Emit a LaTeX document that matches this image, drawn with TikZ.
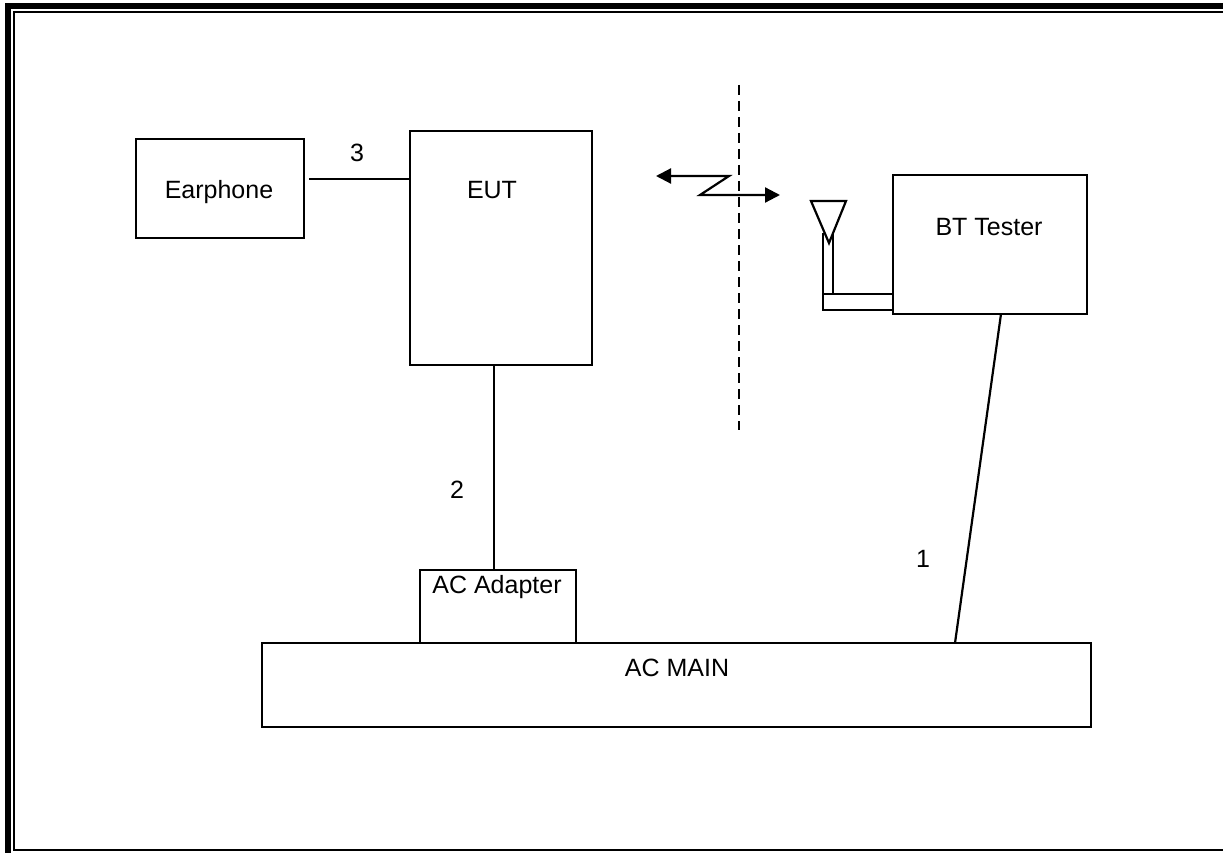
\documentclass[tikz,border=0pt]{standalone}
\usepackage{fontspec}
\setmainfont{Liberation Sans}
\usetikzlibrary{arrows.meta}
\begin{document}
\begin{tikzpicture}[x=1pt,y=-1pt,
  box/.style={draw,line width=2.2pt,inner sep=0pt,outer sep=0pt,minimum width=#1},
  lbl/.style={inner sep=0pt,font=\fontsize{25}{29}\selectfont},
  wire/.style={line width=2.2pt}
]
\useasboundingbox (0,0) rectangle (1223,853);
% frame
\draw[line width=6.5pt,line join=miter] (8,853) -- (8,6) -- (1223,6);
\draw[line width=2.6pt,line join=miter] (1223,12) -- (14,12) -- (14,850) -- (1223,850);
% boxes
\node[box=168pt,minimum height=99pt] (earphone) at (220,188.5) {};
\node[box=182pt,minimum height=234pt] (eut) at (501,248) {};
\node[box=194pt,minimum height=139pt] (bt) at (990,244.5) {};
\node[box=156pt,minimum height=73pt] (adapter) at (498,606.5) {};
\node[box=829pt,minimum height=84pt] (acmain) at (676.5,685) {};
% texts
\node[lbl] (tEar) at (219,192) {Earphone};
\node[lbl] (tEut) at (492,190) {EUT};
\node[lbl] (tBt) at (989,227) {BT Tester};
\node[lbl] (tAd) at (497,587) {AC Adapter};
\node[lbl] (tMain) at (677,668) {AC MAIN};
\node[lbl] (l3) at (357,153) {3};
\node[lbl] (l2) at (457,490) {2};
\node[lbl] (l1) at (923,559) {1};
% connectors
\coordinate (y3) at (0,179);
\coordinate (x2) at (494,0);
\coordinate (x1a) at (1001,0);
\coordinate (x1b) at (955,0);
\draw[wire] ([xshift=5pt]earphone.east |- y3) -- (eut.west |- y3);
\draw[wire] (eut.south -| x2) -- (adapter.north -| x2);
\draw[wire] (bt.south -| x1a) -- (acmain.north -| x1b);
% wireless link
\draw[line width=1.6pt,dash pattern=on 10pt off 6pt] (739,85) -- (739,430);
\draw[wire,line join=miter,{Triangle[length=15pt,width=15pt]}-{Triangle[length=15pt,width=15pt]}]
  (656,176) -- (729,176) -- (700,195) -- (780,195);
% antenna
\draw[wire,line join=miter] (811,201) -- (846,201) -- (829,243) -- cycle;
\draw[wire] (823,233) -- (823,294);
\draw[wire] (833,233) -- (833,294);
\draw[wire] (823,294) rectangle (bt.west |- 0,310);
\end{tikzpicture}
\end{document}
